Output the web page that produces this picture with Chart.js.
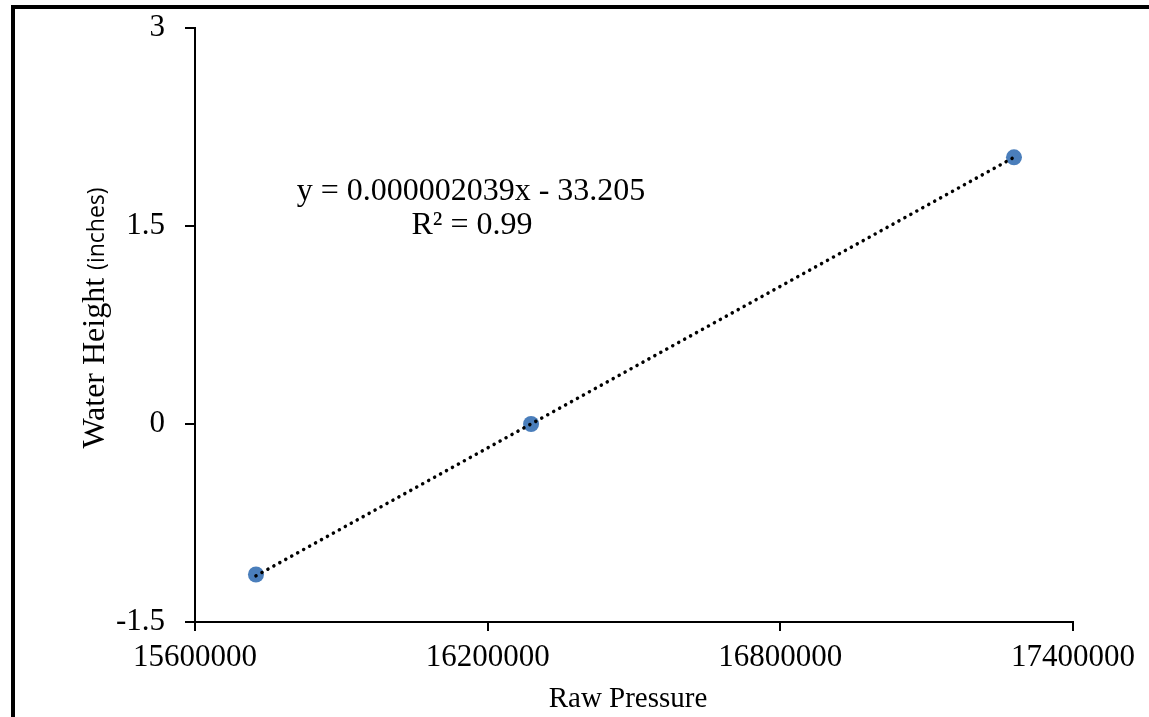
<!DOCTYPE html>
<html>
<head>
<meta charset="utf-8">
<script src="https://cdn.jsdelivr.net/npm/chart.js@4/dist/chart.umd.min.js"></script>
<style>
  html, body { margin: 0; padding: 0; background: #fff; overflow: hidden; }
  #wrap { position: relative; width: 1149px; height: 717px; }
  #frame { position: absolute; left: 11px; top: 5px; width: 2000px; height: 2000px;
           border-left: 4px solid #000; border-top: 4px solid #000; pointer-events: none; }
</style>
</head>
<body>
<div id="wrap">
  <canvas id="pressureChart" width="1149" height="717"></canvas>
  <div id="frame"></div>
</div>
<script>
// Målte punkter (lest av bildet)
const rawPressure = [15725000, 16289000, 17279000];
const waterHeight = [-1.14, 0.0, 2.02];

// Trendlinje, endepunkter lest av bildet
const trendX = [15725000, 17279000];
const trendY = [-1.15, 2.02];

const xTicks = [15600000, 16200000, 16800000, 17400000];
const yTicks = [-1.5, 0, 1.5, 3];

const equationLines = ['y = 0.000002039x - 33.205', 'R\u00b2 = 0.99'];
const xTitle = 'Raw Pressure';

const serif = '"Liberation Serif", "Times New Roman", serif';

// Tekst: likning, x-tittel og y-aksetittel med to skriftstørrelser
const textPlugin = {
  id: 'textPlugin',
  afterDraw(chart) {
    const c = chart.ctx;
    c.save();
    c.fillStyle = '#000';
    c.textAlign = 'center';
    c.textBaseline = 'middle';
    c.font = '32px ' + serif;
    c.fillText(equationLines[0], 471, 192);
    c.fillText(equationLines[1], 472, 226);

    // x-tittel
    c.textBaseline = 'alphabetic';
    c.font = '29px ' + serif;
    c.fillText(xTitle, 628, 707);

    // y-aksetittel
    c.translate(104, 318);
    c.rotate(-Math.PI / 2);
    const partA = 'Water Height ';
    const partB = '(inches)';
    c.font = '32px ' + serif;
    const wA = c.measureText(partA).width;
    c.font = '23px "Open Sans", sans-serif';
    const wB = c.measureText(partB).width;
    const x0 = -(wA + wB) / 2;
    c.textAlign = 'left';
    c.font = '32px ' + serif;
    c.fillText(partA, x0, 0);
    c.font = '23px "Open Sans", sans-serif';
    c.fillText(partB, x0 + wA, 0);
    c.restore();
  }
};

const ctx = document.getElementById('pressureChart').getContext('2d');

new Chart(ctx, {
  type: 'scatter',
  data: {
    datasets: [
      {
        label: 'Trend',
        type: 'line',
        data: trendX.map((x, i) => ({ x: x, y: trendY[i] })),
        borderColor: '#000',
        borderWidth: 3.5,
        borderDash: [0.1, 6.7],
        borderCapStyle: 'round',
        pointRadius: 0,
        fill: false,
        order: 0
      },
      {
        label: 'Water Height',
        data: rawPressure.map((x, i) => ({ x: x, y: waterHeight[i] })),
        backgroundColor: '#4a7ebb',
        borderColor: '#4a7ebb',
        pointRadius: 8,
        pointBorderWidth: 0,
        order: 1
      }
    ]
  },
  options: {
    responsive: false,
    animation: false,
    devicePixelRatio: 1,
    layout: { padding: { left: 0, top: 28, right: 76, bottom: 0 } },
    plugins: {
      legend: { display: false },
      tooltip: { enabled: false },
      title: { display: false }
    },
    scales: {
      x: {
        type: 'linear',
        min: 15600000,
        max: 17400000,
        afterFit: s => { s.height = 95; s.paddingLeft = 0; s.paddingRight = 0; },
        afterBuildTicks: s => { s.ticks = xTicks.map(v => ({ value: v })); },
        border: { display: true, color: '#000', width: 2 },
        grid: { drawOnChartArea: false, drawTicks: true, tickLength: 9, color: '#000', lineWidth: 2 },
        ticks: {
          color: '#000',
          padding: 8,
          font: { family: serif, size: 31 },
          maxRotation: 0,
          callback: v => String(v)
        }
      },
      y: {
        type: 'linear',
        min: -1.5,
        max: 3,
        afterFit: s => { s.width = 195; s.paddingTop = 0; s.paddingBottom = 0; },
        afterBuildTicks: s => { s.ticks = yTicks.map(v => ({ value: v })); },
        border: { display: true, color: '#000', width: 2 },
        grid: { drawOnChartArea: false, drawTicks: true, tickLength: 10, color: '#000', lineWidth: 2 },
        ticks: {
          color: '#000',
          padding: 20,
          font: { family: serif, size: 31 },
          callback: v => String(v)
        }
      }
    }
  },
  plugins: [textPlugin]
});
</script>
</body>
</html>
